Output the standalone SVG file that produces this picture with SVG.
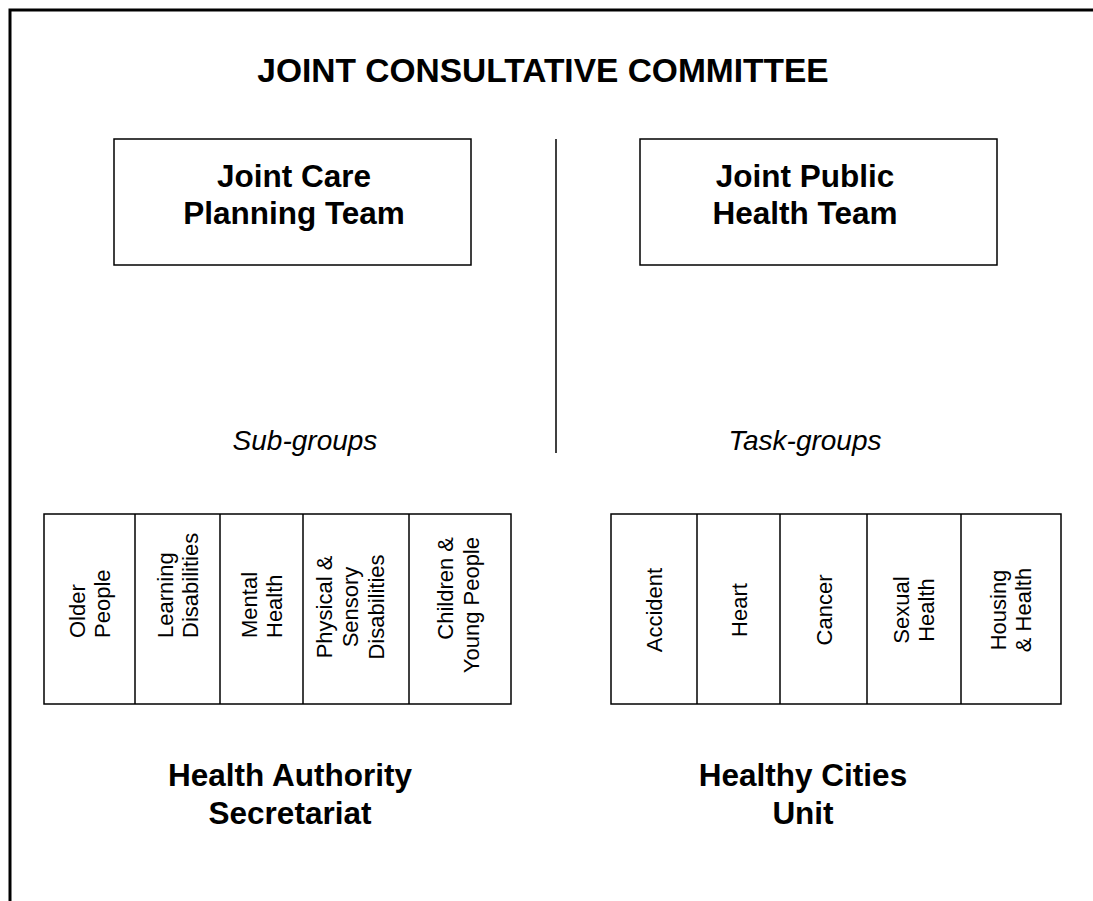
<svg xmlns="http://www.w3.org/2000/svg" width="1093" height="901" viewBox="0 0 1093 901">
  <style>
    .frame { stroke: #000; stroke-width: 3; fill: none; }
    .box { fill: #fff; stroke: #000; stroke-width: 1.5; }
    .rule { stroke: #000; stroke-width: 1.5; fill: none; }
    .head { font-family: "Liberation Sans", Arial, sans-serif; font-weight: bold; font-size: 31.5px; fill: #000; text-anchor: middle; }
    .title { font-size: 33.5px; }
    .label { font-family: "Liberation Sans", Arial, sans-serif; font-style: italic; font-size: 28px; fill: #000; text-anchor: middle; }
    .cell { font-family: "Liberation Sans", Arial, sans-serif; font-size: 22px; fill: #000; }
  </style>
  <rect width="1093" height="901" fill="#fff"/>

  <!-- page frame (top and left edges) -->
  <path class="frame" d="M10,901 V10 H1093"/>

  <text class="head title" x="543" y="82">JOINT CONSULTATIVE COMMITTEE</text>

  <g id="connectors">
    <line class="rule" x1="556" y1="139" x2="556" y2="453"/>
  </g>

  <g id="joint-care-planning-team">
    <rect class="box" x="114" y="139" width="357" height="126"/>
    <text class="head" x="294" y="187">Joint Care</text>
    <text class="head" x="294" y="224">Planning Team</text>
  </g>

  <g id="joint-public-health-team">
    <rect class="box" x="640" y="139" width="357" height="126"/>
    <text class="head" x="805" y="187">Joint Public</text>
    <text class="head" x="805" y="224">Health Team</text>
  </g>

  <text class="label" x="305" y="450">Sub-groups</text>
  <text class="label" x="805" y="450">Task-groups</text>

  <!-- sub-groups table -->
  <g id="sub-groups">
    <rect class="box" x="44" y="514" width="467" height="190"/>
    <line class="rule" x1="135" y1="514" x2="135" y2="704"/>
    <line class="rule" x1="220" y1="514" x2="220" y2="704"/>
    <line class="rule" x1="303" y1="514" x2="303" y2="704"/>
    <line class="rule" x1="409" y1="514" x2="409" y2="704"/>
    <text class="cell" transform="translate(89.5,638) rotate(-90)"><tspan x="0" y="-5">Older</tspan><tspan x="0" y="20">People</tspan></text>
    <text class="cell" transform="translate(177.5,638) rotate(-90)"><tspan x="0" y="-5">Learning</tspan><tspan x="0" y="20">Disabilities</tspan></text>
    <text class="cell" transform="translate(261.5,638) rotate(-90)"><tspan x="0" y="-5">Mental</tspan><tspan x="0" y="20">Health</tspan></text>
    <text class="cell" text-anchor="middle" transform="translate(356,607) rotate(-90)"><tspan x="0" y="-24">Physical &amp;</tspan><tspan x="0" y="2">Sensory</tspan><tspan x="0" y="28">Disabilities</tspan></text>
    <text class="cell" text-anchor="end" transform="translate(460,537) rotate(-90)"><tspan x="0" y="-7">Children &amp;</tspan><tspan x="0" y="19">Young People</tspan></text>
  </g>

  <!-- task-groups table -->
  <g id="task-groups">
    <rect class="box" x="611" y="514" width="450" height="190"/>
    <line class="rule" x1="697" y1="514" x2="697" y2="704"/>
    <line class="rule" x1="780" y1="514" x2="780" y2="704"/>
    <line class="rule" x1="867" y1="514" x2="867" y2="704"/>
    <line class="rule" x1="961" y1="514" x2="961" y2="704"/>
    <text class="cell" text-anchor="middle" transform="translate(654,610) rotate(-90)"><tspan x="0" y="8">Accident</tspan></text>
    <text class="cell" text-anchor="middle" transform="translate(738.5,610) rotate(-90)"><tspan x="0" y="8">Heart</tspan></text>
    <text class="cell" text-anchor="middle" transform="translate(823.5,610) rotate(-90)"><tspan x="0" y="8">Cancer</tspan></text>
    <text class="cell" text-anchor="middle" transform="translate(914,610) rotate(-90)"><tspan x="0" y="-5">Sexual</tspan><tspan x="0" y="20">Health</tspan></text>
    <text class="cell" text-anchor="middle" transform="translate(1011,610) rotate(-90)"><tspan x="0" y="-5">Housing</tspan><tspan x="0" y="20">&amp; Health</tspan></text>
  </g>

  <g id="health-authority-secretariat">
    <text class="head" x="290" y="786">Health Authority</text>
    <text class="head" x="290" y="824">Secretariat</text>
  </g>

  <g id="healthy-cities-unit">
    <text class="head" x="803" y="786">Healthy Cities</text>
    <text class="head" x="803" y="824">Unit</text>
  </g>
</svg>
